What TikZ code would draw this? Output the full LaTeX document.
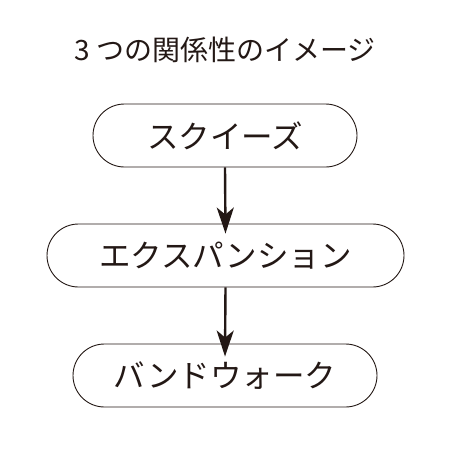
\documentclass[tikz,border=0pt]{standalone}
\usepackage{fontspec}
\setmainfont{Noto Sans CJK JP}
\usetikzlibrary{shapes.misc,arrows.meta}
\definecolor{ink}{HTML}{231815}
\begin{document}
\begin{tikzpicture}[x=1pt,y=-1pt,
  pill/.style={rounded rectangle, draw=ink, line width=0.9pt, minimum height=63pt, inner sep=0pt, text=ink, font=\fontsize{31.5}{32}\selectfont},
  flow/.style={draw=ink, line width=2.4pt, -{Stealth[length=26pt,width=17pt,inset=7pt]}}]
\useasboundingbox (0,0) rectangle (456,456);
\node[text=ink, font=\fontsize{28}{28}\selectfont] (title) at (225,50) {3 つの関係性のイメージ};
\node[pill, minimum width=264pt] (a) at (225,135.5) {スクイーズ};
\node[pill, minimum width=357pt] (b) at (225.5,255.5) {エクスパンション};
\node[pill, minimum width=304pt] (c) at (225,375.5) {バンドウォーク};
\draw[flow] (a.south) -- ([yshift=-10pt]b.north);
\draw[flow] (b.south) -- ([yshift=-13pt]c.north);
\end{tikzpicture}
\end{document}
